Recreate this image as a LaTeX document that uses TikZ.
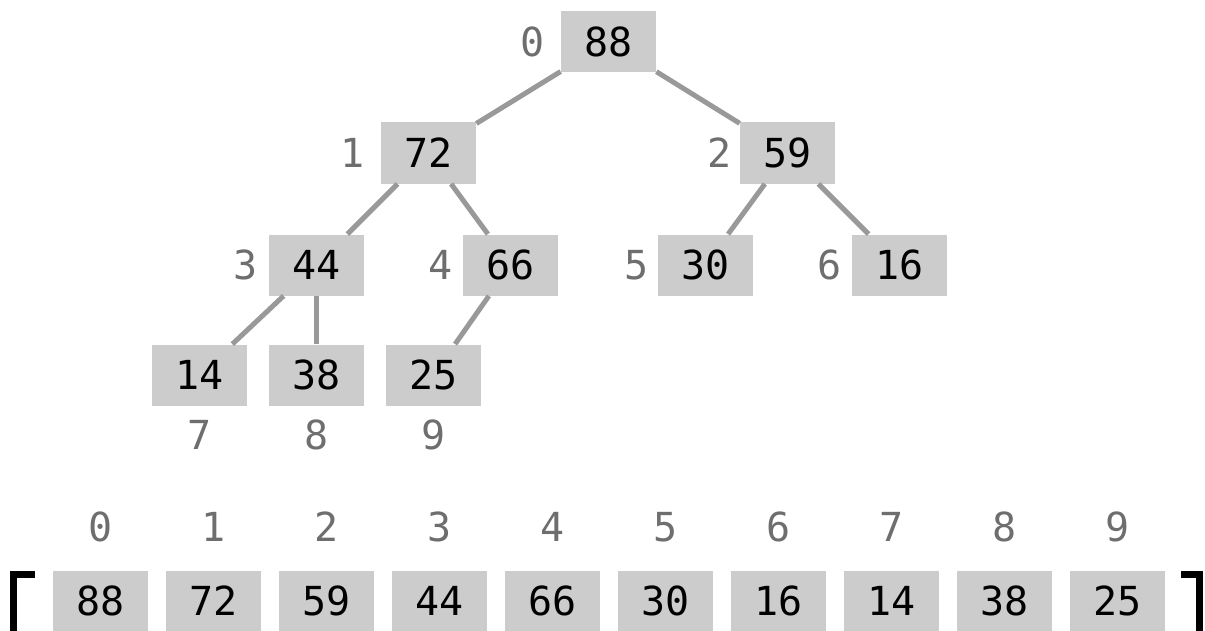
\documentclass[tikz,border=0pt]{standalone}
\usepackage{fontspec}
\setmonofont{DejaVu Sans Mono}
\definecolor{cellgray}{HTML}{CCCCCC}
\definecolor{edgegray}{HTML}{999999}
\definecolor{idxgray}{HTML}{6E6E6E}
\begin{document}
\begin{tikzpicture}[x=0.5pt, y=-0.5pt,
				    font=\ttfamily\fontsize{20}{24}\selectfont,
				    cell/.style={fill=cellgray, minimum width=47.5pt, minimum height=30.5pt,
				    			 inner sep=0pt, text=black},
				    idx/.style={text=idxgray, inner sep=0pt},
				    link/.style={draw=edgegray, line width=2.5pt}]
	\useasboundingbox (0, 0) rectangle (1205, 631);
	% heap as a tree
	\node[cell, label={[idx, label distance=8pt]left:0}] (n0) at (608.5,  42) {88};
	\node[cell, label={[idx, label distance=8pt]left:1}] (n1) at (428.5, 153) {72};
	\node[cell, label={[idx, label distance=4pt]left:2}] (n2) at (787.5, 153) {59};
	\node[cell, label={[idx, label distance=5.5pt]left:3}] (n3) at (316.5, 265) {44};
	\node[cell, label={[idx, label distance=5pt]left:4}] (n4) at (510.5, 265) {66};
	\node[cell, label={[idx, label distance=4.5pt]left:5}] (n5) at (705.5, 265) {30};
	\node[cell, label={[idx, label distance=5pt]left:6}] (n6) at (899.5, 265) {16};
	\node[cell, label={[idx, label distance=7pt]below:7}] (n7) at (199.5, 375) {14};
	\node[cell, label={[idx, label distance=7pt]below:8}] (n8) at (316.5, 375) {38};
	\node[cell, label={[idx, label distance=7pt]below:9}] (n9) at (433.5, 375) {25};
	\path[link] (n0) edge (n1)
				(n0) edge (n2)
				(n1) edge (n3)
				(n1) edge (n4)
				(n2) edge (n5)
				(n2) edge (n6)
				(n3) edge (n7)
				(n3) edge (n8)
				(n4) edge (n9);
	% heap as an array
	\node[cell, label={[idx, label distance=14pt]above:0}] (a0) at ( 100.5, 601) {88};
	\node[cell, label={[idx, label distance=14pt]above:1}] (a1) at ( 213.5, 601) {72};
	\node[cell, label={[idx, label distance=14pt]above:2}] (a2) at ( 326.5, 601) {59};
	\node[cell, label={[idx, label distance=14pt]above:3}] (a3) at ( 439.5, 601) {44};
	\node[cell, label={[idx, label distance=14pt]above:4}] (a4) at ( 552.5, 601) {66};
	\node[cell, label={[idx, label distance=14pt]above:5}] (a5) at ( 665.5, 601) {30};
	\node[cell, label={[idx, label distance=14pt]above:6}] (a6) at ( 778.5, 601) {16};
	\node[cell, label={[idx, label distance=14pt]above:7}] (a7) at ( 891.5, 601) {14};
	\node[cell, label={[idx, label distance=14pt]above:8}] (a8) at (1004.5, 601) {38};
	\node[cell, label={[idx, label distance=14pt]above:9}] (a9) at (1117.5, 601) {25};
	% brackets
	\draw[line width=3.5pt] (35, 574.5) -- (13.5, 574.5) -- (13.5, 640);
	\draw[line width=3.5pt] (1181, 574.5) -- (1199, 574.5) -- (1199, 640);
\end{tikzpicture}
\end{document}
